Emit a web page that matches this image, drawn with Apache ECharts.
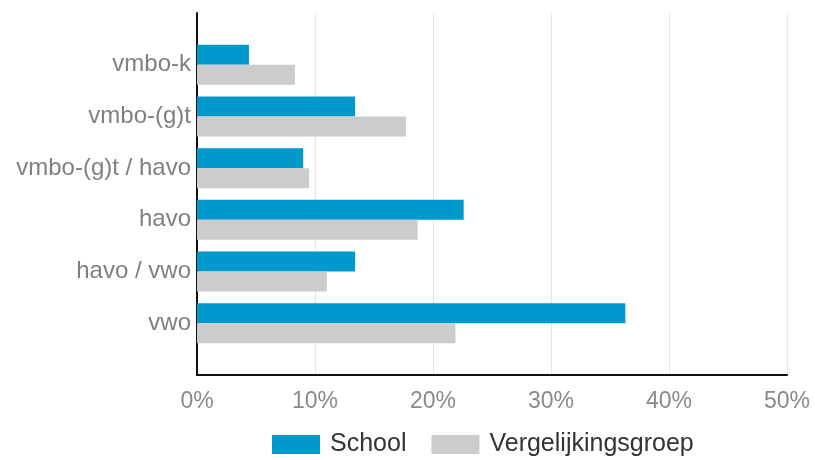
<!DOCTYPE html>
<html>
<head>
<meta charset="utf-8">
<script src="https://cdn.jsdelivr.net/npm/echarts@6/dist/echarts.min.js"></script>
<style>html,body{margin:0;padding:0;background:#fff}#c{width:815px;height:460px}</style>
</head>
<body>
<div id="c"></div>
<script>
var categories = ['vmbo-k', 'vmbo-(g)t', 'vmbo-(g)t / havo', 'havo', 'havo / vwo', 'vwo'];
var schoolValues = [4.4, 13.4, 9.0, 22.6, 13.4, 36.3];
var vergelijkingValues = [8.3, 17.7, 9.5, 18.7, 11.0, 21.9];
var xTicks = [0, 10, 20, 30, 40, 50];
var seriesNames = ['School', 'Vergelijkingsgroep'];

var pad = function (arr) { return ['-'].concat(arr).concat(['-']); };
var axisCats = [''].concat(categories).concat(['']);

var chart = echarts.init(document.getElementById('c'));
chart.setOption({
  animation: false,
  grid: { left: 197, right: 28, top: 13, bottom: 85, containLabel: false },
  xAxis: {
    type: 'value',
    min: xTicks[0], max: xTicks[xTicks.length - 1], interval: 10,
    axisLine: { show: true, lineStyle: { color: '#111', width: 2 } },
    axisTick: { show: false },
    splitLine: { show: true, lineStyle: { color: '#e6e6e6', width: 1 } },
    axisLabel: { formatter: '{value}%', color: '#8a8a8a', fontSize: 23, fontFamily: 'Liberation Sans, Arial, sans-serif', margin: 15 }
  },
  yAxis: {
    type: 'category',
    data: axisCats,
    inverse: true,
    boundaryGap: false,
    axisLine: { show: true, lineStyle: { color: '#111', width: 2 } },
    axisTick: { show: false },
    splitLine: { show: false },
    axisLabel: { color: '#808080', fontSize: 24, fontFamily: 'Liberation Sans, Arial, sans-serif', margin: 6, interval: 0, padding: [5, 0, 0, 0] }
  },
  legend: {
    data: seriesNames,
    left: 272, top: 432, padding: 0,
    icon: 'rect',
    itemWidth: 48, itemHeight: 19, itemGap: 25,
    textStyle: { color: '#333', fontSize: 25, fontFamily: 'Liberation Sans, Arial, sans-serif', padding: [0, 0, 0, 5] }
  },
  series: [
    { name: seriesNames[0], type: 'bar', data: pad(schoolValues), barWidth: 20, barGap: '0%', itemStyle: { color: '#0099cc' } },
    { name: seriesNames[1], type: 'bar', data: pad(vergelijkingValues), barWidth: 20, barGap: '0%', itemStyle: { color: '#cccccc' } }
  ]
});
</script>
</body>
</html>
